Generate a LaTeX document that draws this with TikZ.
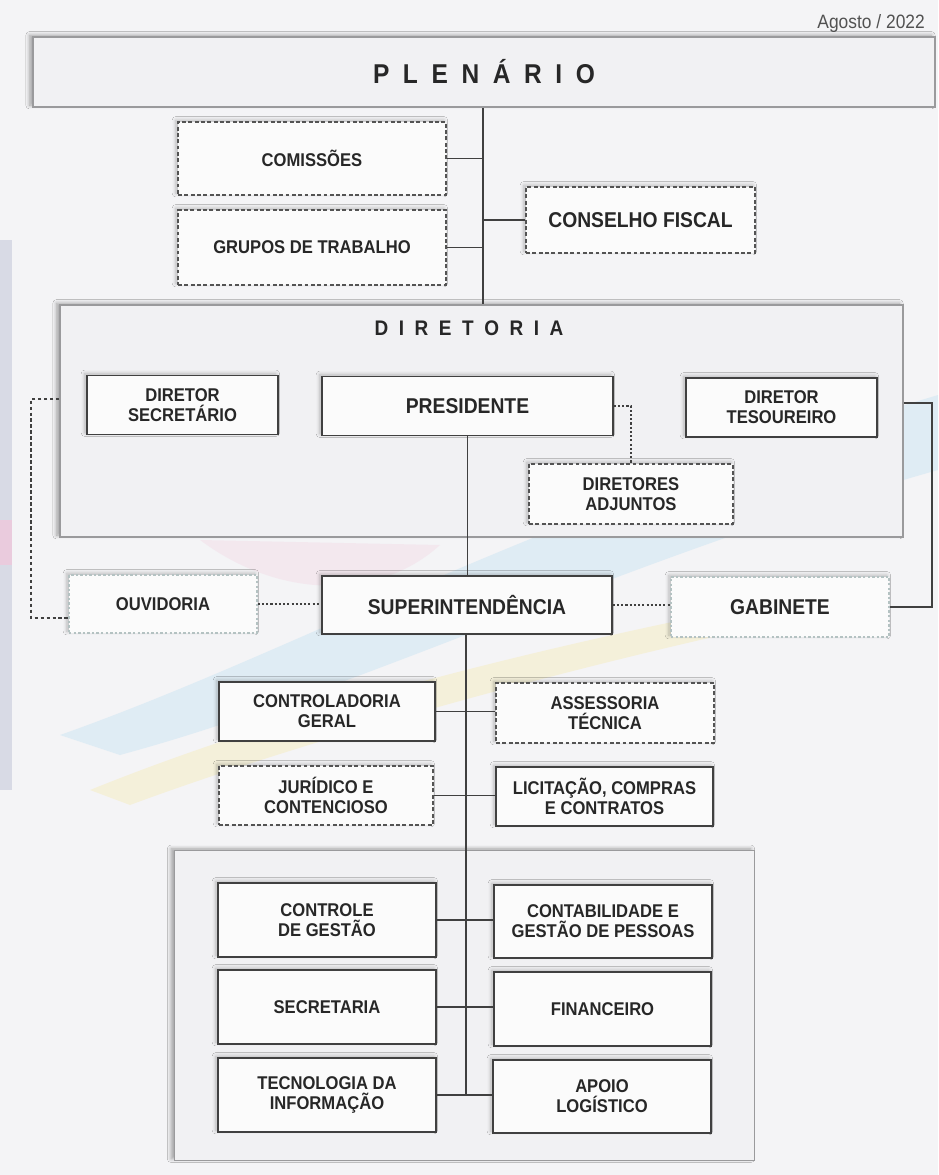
\documentclass[tikz,border=0pt]{standalone}
\usepackage{fontspec}
\setmainfont{Liberation Sans}
\newfontfamily\condf[FakeStretch=0.9]{Liberation Sans}
\usetikzlibrary{shadows.blur}
\definecolor{bgc}{HTML}{F4F4F6}
\definecolor{ink}{HTML}{272727}
\definecolor{edge}{HTML}{404040}
\definecolor{bigedge}{HTML}{9A9A9C}
\definecolor{bigfill}{HTML}{F1F1F3}
\definecolor{boxfill}{HTML}{FBFBFB}
\definecolor{paleedge}{HTML}{B4C2C2}
\definecolor{swblue}{HTML}{8FCDEE}
\definecolor{swyellow}{HTML}{F7E27A}
\definecolor{swpink}{HTML}{F3C6DA}
\definecolor{band}{HTML}{D8DAE5}
\newcommand{\ls}{\hspace{0.5em}}
\tikzset{
  base/.style={draw=edge, line width=0.9pt, fill=boxfill, align=center, text=ink,
    font=\condf\bfseries\fontsize{10.5}{11.3}\selectfont, inner sep=1pt,
    blur shadow={shadow xshift=-1.2pt, shadow yshift=1pt, shadow blur steps=6, shadow opacity=25}},
  solidbox/.style={base},
  dashbox/.style={base, dash pattern=on 2.2pt off 1.4pt, draw=edge!90},
  palebox/.style={base, draw=paleedge, dash pattern=on 1.4pt off 1.2pt},
  bigbox/.style={draw=bigedge, line width=0.9pt, fill=bigfill,
    blur shadow={shadow xshift=-2pt, shadow yshift=1pt, shadow blur steps=8, shadow opacity=35}},
  bigfont/.style={font=\condf\bfseries\fontsize{12.2}{13.5}\selectfont},
  conn/.style={draw=edge, line width=0.9pt},
  dotconn/.style={draw=edge, line width=0.9pt, dash pattern=on 1.2pt off 1.2pt},
  dashconn/.style={draw=edge, line width=0.8pt, dash pattern=on 2pt off 1.4pt},
}
\begin{document}
\begin{tikzpicture}[x=0.02cm, y=-0.02cm]
\useasboundingbox (0,0) rectangle (938,1175);
\fill[bgc] (0,0) rectangle (938,1175);
% background swooshes
\fill[swblue, opacity=0.2] (60,735) .. controls (300,650) and (520,520) .. (938,395) -- (938,470) .. controls (620,560) and (360,690) .. (120,755) -- cycle;
\fill[swyellow, opacity=0.22] (90,790) .. controls (300,705) and (550,645) .. (780,600) -- (780,622) .. controls (550,672) and (300,742) .. (130,805) -- cycle;
\fill[swpink, opacity=0.25] (200,540) .. controls (280,600) and (380,600) .. (440,545) -- cycle;
\fill[band] (0,240) rectangle (12,790);
\fill[swpink, opacity=0.7] (0,520) rectangle (12,565);

\node[anchor=east, text=ink!80, font=\condf\fontsize{11}{12}\selectfont] (date) at (931,24) {Agosto / 2022};

\node[bigbox, minimum width=18.04cm, minimum height=1.4cm, text=ink,
  font=\condf\bfseries\fontsize{15.5}{16}\selectfont] (plen) at (484,72)
  {P\ls L\ls E\ls N\ls Á\ls R\ls I\ls O};

\coordinate (t1) at (483,0);

\node[dashbox, minimum width=5.36cm, minimum height=1.46cm] (com) at (312,158.5) {COMISSÕES};
\node[dashbox, minimum width=5.36cm, minimum height=1.5cm] (gt) at (312,247.5) {GRUPOS DE TRABALHO};
\node[dashbox, bigfont, minimum width=4.58cm, minimum height=1.32cm] (cf) at (640.5,220) {CONSELHO FISCAL};

\node[bigbox, minimum width=16.86cm, minimum height=4.64cm] (dir) at (481.5,421) {};
\node[text=ink, font=\condf\bfseries\fontsize{12}{13}\selectfont] (dirt) at (469,328)
  {D\ls I\ls R\ls E\ls T\ls O\ls R\ls I\ls A};

\node[solidbox, minimum width=3.82cm, minimum height=1.18cm] (dsec) at (182.5,405) {DIRETOR\\SECRETÁRIO};
\node[solidbox, bigfont, minimum width=5.82cm, minimum height=1.18cm] (pres) at (467.5,406) {PRESIDENTE};
\node[solidbox, minimum width=3.82cm, minimum height=1.18cm] (dtes) at (781.5,407.5) {DIRETOR\\TESOUREIRO};
\node[dashbox, minimum width=4.08cm, minimum height=1.2cm] (adj) at (631,494) {DIRETORES\\ADJUNTOS};

\node[palebox, minimum width=3.76cm, minimum height=1.16cm] (ouv) at (163,604) {OUVIDORIA};
\node[solidbox, bigfont, minimum width=5.8cm, minimum height=1.16cm] (sup) at (467,605) {SUPERINTENDÊNCIA};
\node[palebox, bigfont, minimum width=4.36cm, minimum height=1.2cm] (gab) at (780,607) {GABINETE};

\node[solidbox, minimum width=4.32cm, minimum height=1.18cm] (ctrl) at (327,711.5) {CONTROLADORIA\\GERAL};
\node[dashbox, minimum width=4.36cm, minimum height=1.2cm] (ass) at (605,713) {ASSESSORIA\\TÉCNICA};
\node[dashbox, minimum width=4.28cm, minimum height=1.18cm] (jur) at (326,795.5) {JURÍDICO E\\CONTENCIOSO};
\node[solidbox, minimum width=4.34cm, minimum height=1.18cm] (lic) at (604.5,796.5) {LICITAÇÃO, COMPRAS\\E CONTRATOS};

\node[bigbox, minimum width=11.6cm, minimum height=6.2cm] (low) at (464.5,1005.5) {};
\node[solidbox, minimum width=4.36cm, minimum height=1.48cm] (cg) at (327,920) {CONTROLE\\DE GESTÃO};
\node[solidbox, minimum width=4.36cm, minimum height=1.46cm] (cont) at (603,921.5) {CONTABILIDADE E\\GESTÃO DE PESSOAS};
\node[solidbox, minimum width=4.36cm, minimum height=1.48cm] (secr) at (327,1007) {SECRETARIA};
\node[solidbox, minimum width=4.34cm, minimum height=1.48cm] (fin) at (602.5,1009) {FINANCEIRO};
\node[solidbox, minimum width=4.36cm, minimum height=1.48cm] (ti) at (327,1095) {TECNOLOGIA DA\\INFORMAÇÃO};
\node[solidbox, minimum width=4.36cm, minimum height=1.46cm] (apoio) at (602,1096.5) {APOIO\\LOGÍSTICO};

\coordinate (lc1) at (31,399);
\coordinate (lc2) at (31,618);
\coordinate (rc1) at (932,403);
\coordinate (rc2) at (932,607);
\coordinate (tb) at (466,1096);

% connectors
\draw[conn] (plen.south -| t1) -- (dir.north -| t1);
\draw[conn] (com.east) -- (com.east -| t1);
\draw[conn] (gt.east) -- (gt.east -| t1);
\draw[conn] (cf.west) -- (cf.west -| t1);
\draw[conn] (pres.south) -- (sup.north -| pres.south);
\draw[dotconn] (pres.east) -| (adj.north);
\draw[dashconn] (dir.west |- lc1) -- (lc1) -- (lc2) -- (ouv.west |- lc2);
\draw[conn] (dir.east |- rc1) -- (rc1) -- (rc2) -- (gab.east |- rc2);
\draw[dotconn] (ouv.east) -- (ouv.east -| sup.west);
\draw[dotconn] (sup.east) -- (sup.east -| gab.west);
\draw[conn] (sup.south -| tb) -- (tb);
\draw[conn] (ctrl.east) -- (ctrl.east -| ass.west);
\draw[conn] (jur.east) -- (jur.east -| lic.west);
\draw[conn] (cg.east) -- (cg.east -| cont.west);
\draw[conn] (secr.east) -- (secr.east -| fin.west);
\draw[conn] (ti.east) -- (ti.east -| apoio.west);
\end{tikzpicture}
\end{document}
